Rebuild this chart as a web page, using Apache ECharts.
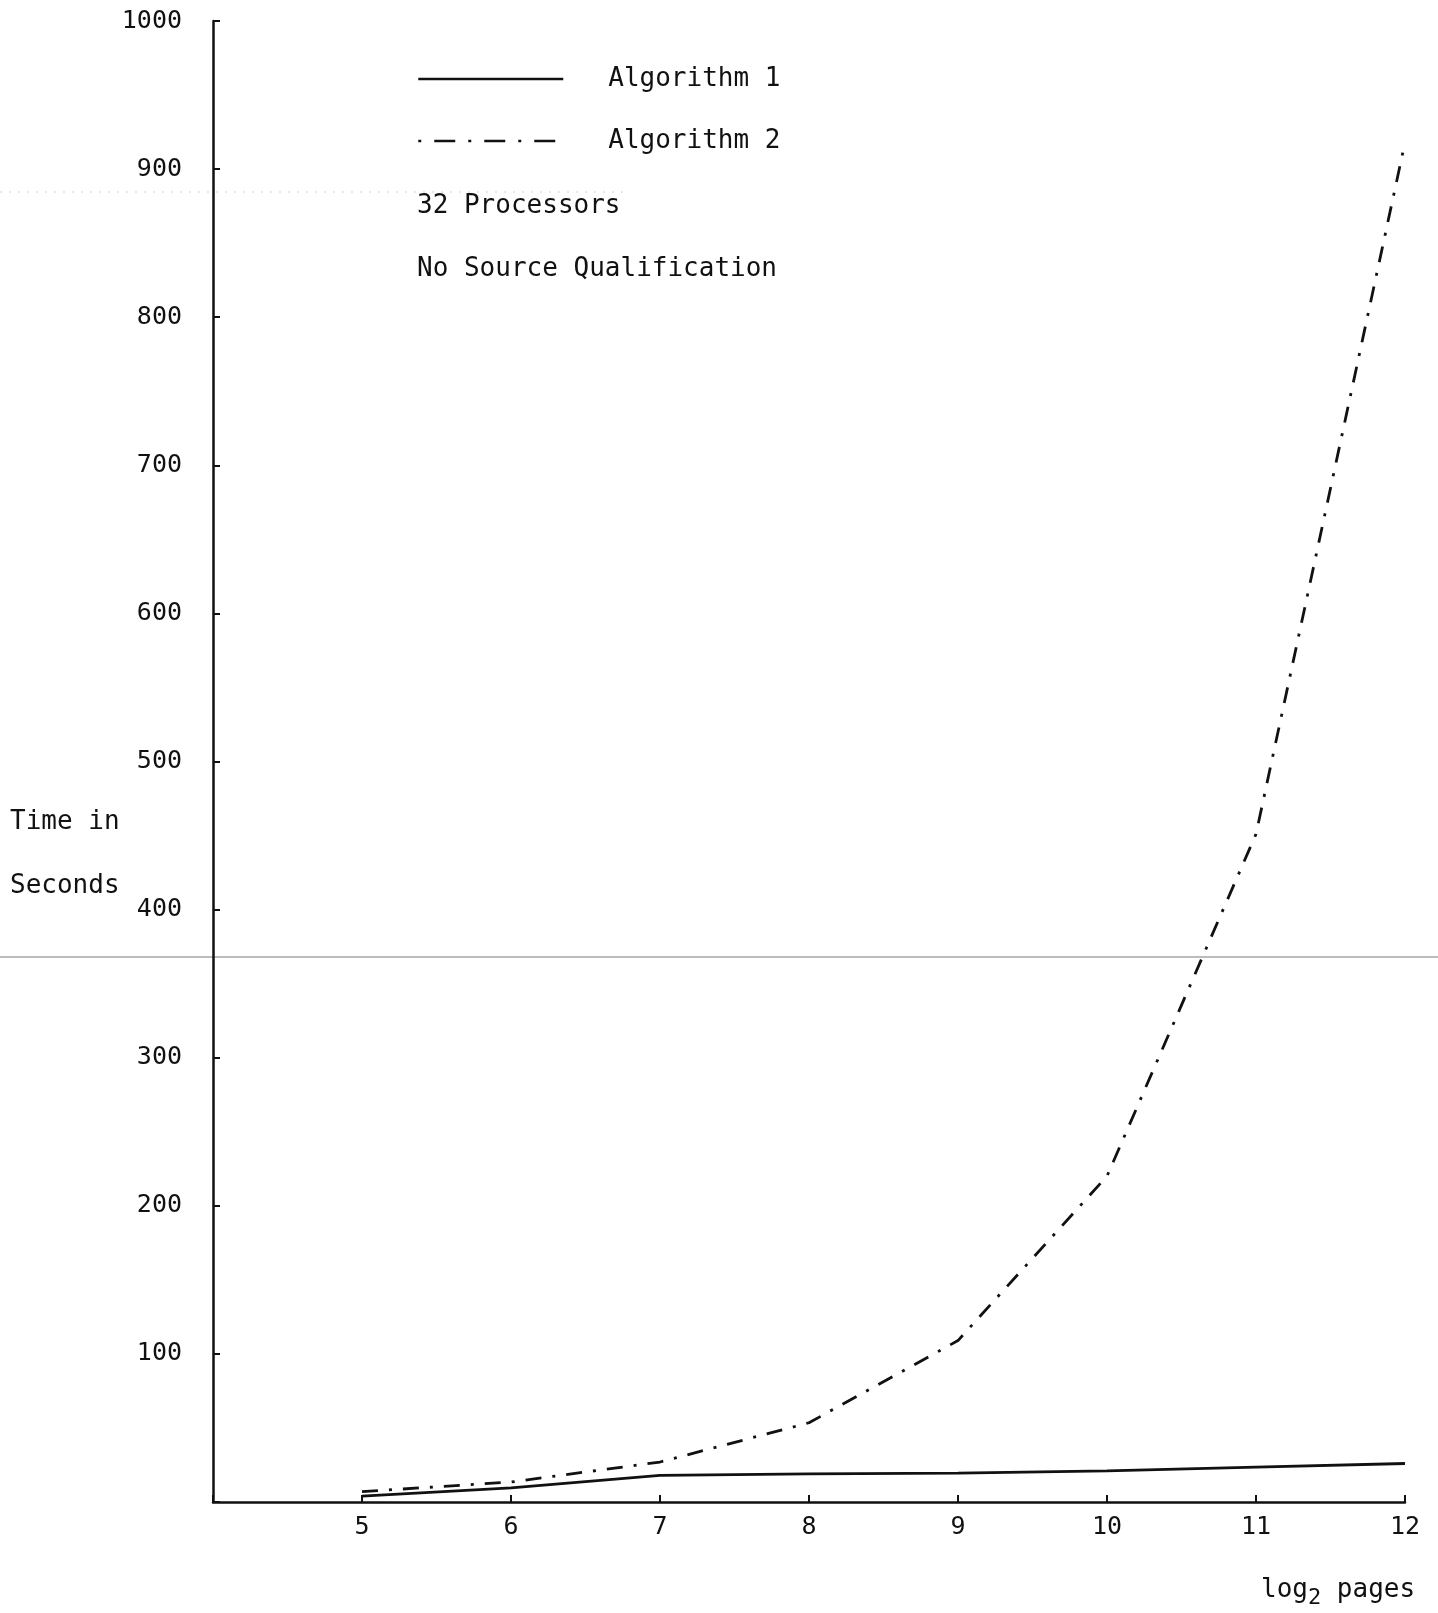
<!DOCTYPE html>
<html>
<head>
<meta charset="utf-8">
<title>Algorithm timing, 32 processors</title>
<script src="https://cdn.jsdelivr.net/npm/echarts@6/dist/echarts.min.js"></script>
<style>
  html, body { margin: 0; padding: 0; background: #ffffff; }
  #chart { width: 1438px; height: 1613px; }
</style>
</head>
<body>
<div id="chart"></div>
<script>
// log2 of the number of pages
const pagesLog2 = [5, 6, 7, 8, 9, 10, 11, 12];
// time in seconds
const algorithm1 = [4, 9.5, 18, 19, 19.5, 21, 23.5, 26];
const algorithm2 = [7, 13.5, 27, 53.5, 109, 220, 451, 918];
const seriesNames = ['Algorithm 1', 'Algorithm 2'];
const notes = ['32 Processors', 'No Source Qualification'];
const yAxisTitle = ['Time in', 'Seconds'];

const INK = '#111111';
const FONT = '"DejaVu Sans Mono", "Liberation Mono", monospace';

const toPairs = (xs, ys) => xs.map((x, i) => [x, ys[i]]);

const chart = echarts.init(document.getElementById('chart'), null, { renderer: 'canvas' });

chart.setOption({
  backgroundColor: '#ffffff',
  animation: false,
  textStyle: { fontFamily: FONT, color: INK },
  grid: { left: 213, right: 33, top: 21, bottom: 111, containLabel: false },
  title: [
    {
      text: notes.join('\n'),
      left: 417, top: 175, padding: 0,
      textStyle: { fontFamily: FONT, fontSize: 26, fontWeight: 'normal', color: INK, lineHeight: 63 }
    },
    {
      text: yAxisTitle.join('\n'),
      left: 10, top: 790, padding: 0,
      textStyle: { fontFamily: FONT, fontSize: 26, fontWeight: 'normal', color: INK, lineHeight: 64 }
    },
    {
      text: 'log{sub|2} pages',
      left: 1261, top: 1571, padding: 0,
      textStyle: {
        fontFamily: FONT, fontSize: 26, fontWeight: 'normal', color: INK,
        rich: { sub: { fontFamily: FONT, fontSize: 22, color: INK, padding: [16, 0, 0, 0] } }
      }
    }
  ],
  legend: {
    orient: 'vertical',
    left: 417, top: 66,
    padding: 0,
    itemWidth: 145, itemHeight: 20, itemGap: 36,
    itemStyle: { opacity: 0 },
    textStyle: { fontFamily: FONT, fontSize: 26, color: INK, padding: [0, 0, 0, 40] },
    data: [
      {
        name: seriesNames[0],
        itemStyle: { opacity: 0 },
        lineStyle: { color: INK, width: 2.5, type: 'solid' }
      },
      {
        name: seriesNames[1],
        itemStyle: { opacity: 0 },
        lineStyle: { color: INK, width: 2.5, type: [21, 13, 3, 13], dashOffset: 34 }
      }
    ]
  },
  xAxis: {
    type: 'value',
    min: 4, max: 12, interval: 1,
    axisLine: { lineStyle: { color: INK, width: 2.5 } },
    axisTick: { inside: true, length: 7, lineStyle: { color: INK, width: 2 } },
    axisLabel: {
      margin: 13, fontFamily: FONT, fontSize: 25, color: INK,
      formatter: v => (v === 4 ? '' : String(v))
    },
    splitLine: { show: false }
  },
  yAxis: {
    type: 'value',
    min: 0, max: 1000, interval: 100,
    axisLine: { show: true, lineStyle: { color: INK, width: 2.5 } },
    axisTick: { show: true, inside: true, length: 7, lineStyle: { color: INK, width: 2 } },
    axisLabel: {
      margin: 31, fontFamily: FONT, fontSize: 25, color: INK,
      formatter: v => (v === 0 ? '' : String(v))
    },
    splitLine: { show: false }
  },
  series: [
    {
      name: seriesNames[0],
      type: 'line',
      data: toPairs(pagesLog2, algorithm1),
      symbol: 'none',
      lineStyle: { color: INK, width: 2.8, type: 'solid' },
      itemStyle: { color: INK }
    },
    {
      name: seriesNames[1],
      type: 'line',
      data: toPairs(pagesLog2, algorithm2),
      symbol: 'none',
      lineStyle: { color: INK, width: 2.8, type: [16, 11, 3, 11] },
      itemStyle: { color: INK }
    }
  ],
  graphic: [
    // faint rules running across the sheet
    {
      type: 'line', silent: true, z: -1,
      shape: { x1: 0, y1: 957, x2: 1438, y2: 957 },
      style: { stroke: '#7a7a7a', lineWidth: 1.2 }
    },
    {
      type: 'line', silent: true, z: -1,
      shape: { x1: 0, y1: 192, x2: 625, y2: 192 },
      style: { stroke: '#cfcfcf', lineWidth: 1, lineDash: [2, 7] }
    }
  ]
});
</script>
</body>
</html>
